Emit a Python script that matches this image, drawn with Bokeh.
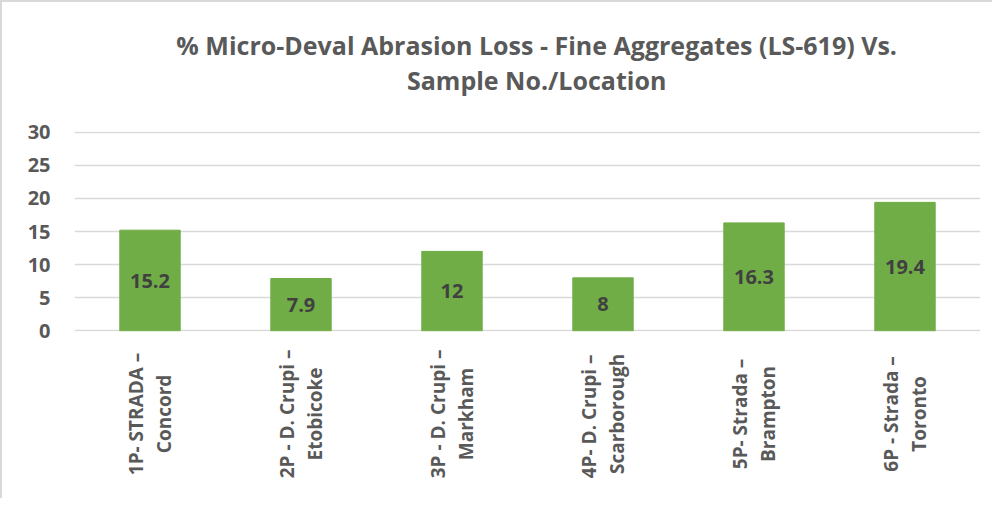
import math
from bokeh.plotting import figure
from bokeh.layouts import column
from bokeh.models import ColumnDataSource, FactorRange, Range1d, FixedTicker
from bokeh.core.properties import value
from bokeh.embed import file_html
from bokeh.resources import INLINE

cat_line1 = [
    "1P- STRADA \u2013",
    "2P - D. Crupi \u2013",
    "3P - D. Crupi \u2013",
    "4P-  D. Crupi \u2013",
    "5P- Strada \u2013",
    "6P - Strada \u2013",
]
cat_line2 = ["Concord", "Etobicoke", "Markham", "Scarborough", "Brampton", "Toronto"]
values = [15.2, 7.9, 12, 8, 16.3, 19.4]
labels = ["15.2", "7.9", "12", "8", "16.3", "19.4"]
y_ticks = [0, 5, 10, 15, 20, 25, 30]
title_lines = [
    "% Micro-Deval Abrasion Loss - Fine Aggregates (LS-619) Vs.",
    "Sample No./Location",
]

categories = [a + " " + b for a, b in zip(cat_line1, cat_line2)]

FONT = "Open Sans"
GREY = "#595959"
W = 990

source = ColumnDataSource(dict(
    cat=categories,
    val=values,
    lab=labels,
    mid=[v / 2 for v in values],
    l1=cat_line1,
    l2=cat_line2,
    ly=[0.56] * len(categories),
))

x_range = FactorRange(*categories)

# ---- title block (pixel-like coordinates, y downwards) ----
tf = figure(
    x_range=Range1d(0, W), y_range=Range1d(110, 0),
    width=W, height=110, output_backend="svg", toolbar_location=None,
    min_border=0,
)
tf.outline_line_color = None
tf.axis.visible = False
tf.grid.visible = False
tsrc = ColumnDataSource(dict(t=title_lines, x=[505, 505], y=[42, 77]))
tf.text(x="x", y="y", text="t", source=tsrc,
        text_font=value(FONT), text_font_size="25px", text_font_style="bold",
        text_color=GREY, text_align="center", text_baseline="middle")

# ---- main chart ----
p = figure(
    x_range=x_range,
    y_range=Range1d(-0.1, 30.1),
    width=W, height=235,
    output_backend="svg", toolbar_location=None,
    min_border_left=72, min_border_right=12,
    min_border_bottom=16, min_border_top=19,
)
p.outline_line_color = None

p.vbar(x="cat", top="val", width=0.4, source=source,
       fill_color="#70AD47", line_color="#70AD47")
p.text(x="cat", y="mid", text="lab", source=source,
       text_font=value(FONT), text_font_style="bold", text_font_size="20px",
       text_color="#404040", text_align="center", text_baseline="middle")

p.xgrid.grid_line_color = None
p.ygrid.grid_line_color = "#D9D9D9"
p.ygrid.grid_line_width = 1.3
p.ygrid.ticker = FixedTicker(ticks=y_ticks)

p.yaxis.ticker = FixedTicker(ticks=y_ticks)
p.yaxis.axis_line_color = None
p.yaxis.major_tick_line_color = None
p.yaxis.minor_tick_line_color = None
p.yaxis.major_label_text_font = FONT
p.yaxis.major_label_text_font_size = "20px"
p.yaxis.major_label_text_font_style = "bold"
p.yaxis.major_label_text_color = GREY
p.yaxis.major_label_standoff = 18
p.xaxis.visible = False

# ---- category labels (two centred lines, rotated) ----
q = figure(
    x_range=x_range,
    y_range=Range1d(0, 1),
    width=W, height=151,
    output_backend="svg", toolbar_location=None,
    min_border_left=72, min_border_right=12,
    min_border_bottom=0, min_border_top=0,
)
q.outline_line_color = None
q.xaxis.visible = False
q.yaxis.visible = False
q.grid.visible = False
for field, dx in (("l1", -14), ("l2", 14)):
    q.text(x="cat", y="ly", text=field, source=source, angle=math.pi / 2,
           x_offset=dx, text_align="center", text_baseline="middle",
           text_font=value(FONT), text_font_size="19px", text_font_style="bold",
           text_color=GREY)

layout = column(tf, p, q, spacing=0)
layout.styles = {"border-left": "2px solid #D9D9D9", "border-top": "2px solid #D9D9D9"}

open("out.html", "w").write(file_html(layout, INLINE))
